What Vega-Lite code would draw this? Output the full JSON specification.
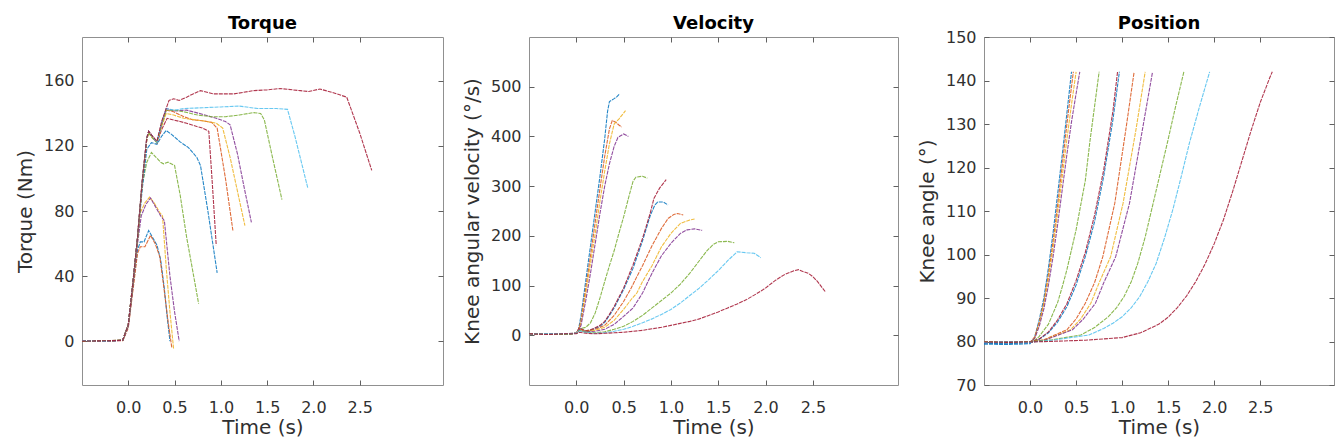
{
"$schema": "https://vega.github.io/schema/vega-lite/v6.json",
"background": "white",
"padding": {"left": 14, "top": 14, "right": 0, "bottom": 0},
"bounds": "flush",
"spacing": 86,
"config": {
  "font": "DejaVu Sans",
  "view": {"stroke": "#909090", "strokeWidth": 1},
  "axis": {"grid": false, "domain": false, "tickColor": "#606060", "tickSize": -5, "labelFont": "DejaVu Sans", "labelFontSize": 16, "labelColor": "#303030", "titleFont": "DejaVu Sans", "titleFontSize": 20, "titleFontWeight": "normal", "titleColor": "#303030", "labelPadding": 13, "titlePadding": 8},
  "axisX": {"labelPadding": 19, "titlePadding": 2},
  "title": {"font": "DejaVu Sans", "fontSize": 18, "fontWeight": "bold", "color": "#000000", "offset": 4},
  "line": {"strokeWidth": 1.1, "opacity": 0.85, "strokeDash": [4, 1]}
},
"hconcat": [
{
  "width": 361, "height": 348,
  "title": {"text": "Torque", "offset": 4},
  "data": {"name": "torque"},
  "layer": [
    {"mark": {"type": "line"},
     "encoding": {
       "x": {"field": "time", "type": "quantitative", "scale": {"domain": [-0.5, 3.4], "nice": false, "zero": false}, "axis": {"values": [0, 0.5, 1, 1.5, 2, 2.5], "format": ".1f", "title": "Time (s)"}},
       "y": {"field": "value", "type": "quantitative", "scale": {"domain": [-27, 187], "nice": false, "zero": false}, "axis": {"values": [0, 40, 80, 120, 160], "title": "Torque (Nm)"}},
       "color": {"field": "trial", "type": "nominal", "scale": {"domain": [1,2,3,4,5,6,7,8,9,10,11,12,13], "range": ["#0072BD","#D95319","#EDB120","#7E2F8E","#77AC30","#0072BD","#A2142F","#D95319","#EDB120","#7E2F8E","#77AC30","#4DBEEE","#A2142F"]}, "legend": null}
     }},
    {"mark": {"type": "line", "opacity": 0},
     "encoding": {
       "x": {"field": "time", "type": "quantitative", "axis": {"orient": "top", "values": [0, 0.5, 1, 1.5, 2, 2.5], "labels": false, "title": null}},
       "y": {"field": "value", "type": "quantitative", "axis": {"orient": "right", "values": [0, 40, 80, 120, 160], "labels": false, "title": null}},
       "detail": {"field": "trial", "type": "nominal"}
     }}
  ],
  "resolve": {"axis": {"x": "independent", "y": "independent"}}
},
{
  "width": 369, "height": 348,
  "title": {"text": "Velocity", "offset": 4},
  "data": {"name": "velocity"},
  "layer": [
    {"mark": {"type": "line"},
     "encoding": {
       "x": {"field": "time", "type": "quantitative", "scale": {"domain": [-0.5, 3.4], "nice": false, "zero": false}, "axis": {"values": [0, 0.5, 1, 1.5, 2, 2.5], "format": ".1f", "title": "Time (s)"}},
       "y": {"field": "value", "type": "quantitative", "scale": {"domain": [-100, 600], "nice": false, "zero": false}, "axis": {"values": [0, 100, 200, 300, 400, 500], "title": "Knee angular velocity (°/s)"}},
       "color": {"field": "trial", "type": "nominal", "scale": {"domain": [1,2,3,4,5,6,7,8,9,10,11,12,13], "range": ["#0072BD","#D95319","#EDB120","#7E2F8E","#77AC30","#0072BD","#A2142F","#D95319","#EDB120","#7E2F8E","#77AC30","#4DBEEE","#A2142F"]}, "legend": null}
     }},
    {"mark": {"type": "line", "opacity": 0},
     "encoding": {
       "x": {"field": "time", "type": "quantitative", "axis": {"orient": "top", "values": [0, 0.5, 1, 1.5, 2, 2.5], "labels": false, "title": null}},
       "y": {"field": "value", "type": "quantitative", "axis": {"orient": "right", "values": [0, 100, 200, 300, 400, 500], "labels": false, "title": null}},
       "detail": {"field": "trial", "type": "nominal"}
     }}
  ],
  "resolve": {"axis": {"x": "independent", "y": "independent"}}
},
{
  "width": 350, "height": 348,
  "title": {"text": "Position", "offset": -4},
  "data": {"name": "position"},
  "layer": [
    {"mark": {"type": "line"},
     "encoding": {
       "x": {"field": "time", "type": "quantitative", "scale": {"domain": [-0.5, 3.3], "nice": false, "zero": false}, "axis": {"values": [0, 0.5, 1, 1.5, 2, 2.5], "format": ".1f", "title": "Time (s)"}},
       "y": {"field": "value", "type": "quantitative", "scale": {"domain": [70, 150], "nice": false, "zero": false}, "axis": {"values": [70, 80, 90, 100, 110, 120, 130, 140, 150], "title": "Knee angle (°)"}},
       "color": {"field": "trial", "type": "nominal", "scale": {"domain": [1,2,3,4,5,6,7,8,9,10,11,12,13], "range": ["#0072BD","#D95319","#EDB120","#7E2F8E","#77AC30","#0072BD","#A2142F","#D95319","#EDB120","#7E2F8E","#77AC30","#4DBEEE","#A2142F"]}, "legend": null}
     }},
    {"mark": {"type": "line", "opacity": 0},
     "encoding": {
       "x": {"field": "time", "type": "quantitative", "axis": {"orient": "top", "values": [0, 0.5, 1, 1.5, 2, 2.5], "labels": false, "title": null}},
       "y": {"field": "value", "type": "quantitative", "axis": {"orient": "right", "values": [70, 80, 90, 100, 110, 120, 130, 140, 150], "labels": false, "title": null}},
       "detail": {"field": "trial", "type": "nominal"}
     }}
  ],
  "resolve": {"axis": {"x": "independent", "y": "independent"}}
}
],
"datasets": {
"torque": [
{"trial":1,"time":-0.5,"value":0},{"trial":1,"time":-0.25,"value":0.3},{"trial":1,"time":-0.06,"value":0.4},{"trial":1,"time":0,"value":9},{"trial":1,"time":0.05,"value":33},{"trial":1,"time":0.1,"value":56},{"trial":1,"time":0.13,"value":61},{"trial":1,"time":0.17,"value":61},{"trial":1,"time":0.22,"value":68},{"trial":1,"time":0.26,"value":64},{"trial":1,"time":0.31,"value":59},{"trial":1,"time":0.35,"value":50},{"trial":1,"time":0.39,"value":32},{"trial":1,"time":0.42,"value":15},{"trial":1,"time":0.45,"value":0},
{"trial":2,"time":-0.5,"value":0.2},{"trial":2,"time":-0.25,"value":0},{"trial":2,"time":-0.06,"value":0.3},{"trial":2,"time":0,"value":8},{"trial":2,"time":0.05,"value":31},{"trial":2,"time":0.1,"value":54},{"trial":2,"time":0.13,"value":58},{"trial":2,"time":0.18,"value":58},{"trial":2,"time":0.24,"value":65},{"trial":2,"time":0.29,"value":60},{"trial":2,"time":0.34,"value":52},{"trial":2,"time":0.38,"value":35},{"trial":2,"time":0.43,"value":12},{"trial":2,"time":0.47,"value":-4},
{"trial":3,"time":-0.5,"value":0},{"trial":3,"time":-0.25,"value":0.2},{"trial":3,"time":-0.06,"value":0.5},{"trial":3,"time":0,"value":10},{"trial":3,"time":0.05,"value":36},{"trial":3,"time":0.1,"value":62},{"trial":3,"time":0.13,"value":79},{"trial":3,"time":0.18,"value":85},{"trial":3,"time":0.23,"value":88.5},{"trial":3,"time":0.28,"value":85},{"trial":3,"time":0.34,"value":79},{"trial":3,"time":0.37,"value":77},{"trial":3,"time":0.41,"value":45},{"trial":3,"time":0.45,"value":18},{"trial":3,"time":0.49,"value":-5},
{"trial":4,"time":-0.5,"value":0.3},{"trial":4,"time":-0.25,"value":0},{"trial":4,"time":-0.06,"value":0.4},{"trial":4,"time":0,"value":9},{"trial":4,"time":0.05,"value":34},{"trial":4,"time":0.1,"value":60},{"trial":4,"time":0.14,"value":77},{"trial":4,"time":0.19,"value":84},{"trial":4,"time":0.24,"value":88},{"trial":4,"time":0.29,"value":83},{"trial":4,"time":0.35,"value":77},{"trial":4,"time":0.39,"value":74},{"trial":4,"time":0.45,"value":40},{"trial":4,"time":0.5,"value":18},{"trial":4,"time":0.55,"value":0},
{"trial":5,"time":-0.5,"value":0},{"trial":5,"time":-0.25,"value":0.2},{"trial":5,"time":-0.06,"value":0.5},{"trial":5,"time":0,"value":10},{"trial":5,"time":0.05,"value":35},{"trial":5,"time":0.1,"value":62},{"trial":5,"time":0.15,"value":96},{"trial":5,"time":0.2,"value":110},{"trial":5,"time":0.25,"value":116},{"trial":5,"time":0.3,"value":113},{"trial":5,"time":0.35,"value":110},{"trial":5,"time":0.38,"value":109},{"trial":5,"time":0.43,"value":110},{"trial":5,"time":0.5,"value":108},{"trial":5,"time":0.56,"value":90},{"trial":5,"time":0.63,"value":64},{"trial":5,"time":0.7,"value":42},{"trial":5,"time":0.76,"value":23},
{"trial":6,"time":-0.5,"value":0.2},{"trial":6,"time":-0.25,"value":0},{"trial":6,"time":-0.06,"value":0.5},{"trial":6,"time":0,"value":10},{"trial":6,"time":0.05,"value":36},{"trial":6,"time":0.1,"value":63},{"trial":6,"time":0.15,"value":93},{"trial":6,"time":0.2,"value":118},{"trial":6,"time":0.25,"value":122},{"trial":6,"time":0.31,"value":121},{"trial":6,"time":0.36,"value":126},{"trial":6,"time":0.41,"value":129.5},{"trial":6,"time":0.47,"value":127},{"trial":6,"time":0.56,"value":122.5},{"trial":6,"time":0.65,"value":119},{"trial":6,"time":0.74,"value":113},{"trial":6,"time":0.78,"value":108},{"trial":6,"time":0.86,"value":80},{"trial":6,"time":0.96,"value":42},
{"trial":7,"time":-0.5,"value":0},{"trial":7,"time":-0.25,"value":0.3},{"trial":7,"time":-0.06,"value":0.5},{"trial":7,"time":0,"value":10},{"trial":7,"time":0.05,"value":36},{"trial":7,"time":0.1,"value":64},{"trial":7,"time":0.15,"value":97},{"trial":7,"time":0.2,"value":124},{"trial":7,"time":0.22,"value":129},{"trial":7,"time":0.26,"value":126},{"trial":7,"time":0.31,"value":122},{"trial":7,"time":0.36,"value":130},{"trial":7,"time":0.42,"value":137},{"trial":7,"time":0.49,"value":136},{"trial":7,"time":0.56,"value":135},{"trial":7,"time":0.63,"value":134},{"trial":7,"time":0.74,"value":132},{"trial":7,"time":0.8,"value":131},{"trial":7,"time":0.87,"value":129},{"trial":7,"time":0.91,"value":95},{"trial":7,"time":0.95,"value":59},
{"trial":8,"time":-0.5,"value":0.2},{"trial":8,"time":-0.25,"value":0},{"trial":8,"time":-0.06,"value":0.5},{"trial":8,"time":0,"value":10},{"trial":8,"time":0.05,"value":36},{"trial":8,"time":0.1,"value":64},{"trial":8,"time":0.15,"value":98},{"trial":8,"time":0.2,"value":125},{"trial":8,"time":0.22,"value":129},{"trial":8,"time":0.26,"value":126},{"trial":8,"time":0.31,"value":122},{"trial":8,"time":0.36,"value":133},{"trial":8,"time":0.41,"value":142},{"trial":8,"time":0.49,"value":141},{"trial":8,"time":0.6,"value":138},{"trial":8,"time":0.7,"value":136},{"trial":8,"time":0.8,"value":135.5},{"trial":8,"time":0.9,"value":134.5},{"trial":8,"time":0.96,"value":131},{"trial":8,"time":1.05,"value":100},{"trial":8,"time":1.13,"value":68},
{"trial":9,"time":-0.5,"value":0},{"trial":9,"time":-0.25,"value":0.2},{"trial":9,"time":-0.06,"value":0.5},{"trial":9,"time":0,"value":10},{"trial":9,"time":0.05,"value":36},{"trial":9,"time":0.1,"value":63},{"trial":9,"time":0.15,"value":97},{"trial":9,"time":0.2,"value":124},{"trial":9,"time":0.22,"value":128},{"trial":9,"time":0.26,"value":125},{"trial":9,"time":0.31,"value":122},{"trial":9,"time":0.36,"value":132},{"trial":9,"time":0.41,"value":140},{"trial":9,"time":0.49,"value":139},{"trial":9,"time":0.6,"value":137},{"trial":9,"time":0.8,"value":135.5},{"trial":9,"time":0.95,"value":134},{"trial":9,"time":1.02,"value":131},{"trial":9,"time":1.1,"value":113},{"trial":9,"time":1.18,"value":92},{"trial":9,"time":1.26,"value":71},
{"trial":10,"time":-0.5,"value":0.2},{"trial":10,"time":-0.25,"value":0},{"trial":10,"time":-0.06,"value":0.5},{"trial":10,"time":0,"value":10},{"trial":10,"time":0.05,"value":36},{"trial":10,"time":0.1,"value":64},{"trial":10,"time":0.15,"value":98},{"trial":10,"time":0.2,"value":125},{"trial":10,"time":0.22,"value":129},{"trial":10,"time":0.26,"value":126},{"trial":10,"time":0.31,"value":122},{"trial":10,"time":0.36,"value":134},{"trial":10,"time":0.41,"value":143},{"trial":10,"time":0.5,"value":141.5},{"trial":10,"time":0.63,"value":142},{"trial":10,"time":0.8,"value":139.5},{"trial":10,"time":0.95,"value":137},{"trial":10,"time":1.05,"value":135},{"trial":10,"time":1.1,"value":133},{"trial":10,"time":1.18,"value":115},{"trial":10,"time":1.25,"value":95},{"trial":10,"time":1.33,"value":73},
{"trial":11,"time":-0.5,"value":0},{"trial":11,"time":-0.25,"value":0.3},{"trial":11,"time":-0.06,"value":0.5},{"trial":11,"time":0,"value":10},{"trial":11,"time":0.05,"value":36},{"trial":11,"time":0.1,"value":64},{"trial":11,"time":0.15,"value":97},{"trial":11,"time":0.2,"value":124},{"trial":11,"time":0.22,"value":128},{"trial":11,"time":0.26,"value":125},{"trial":11,"time":0.31,"value":122},{"trial":11,"time":0.36,"value":133},{"trial":11,"time":0.41,"value":142},{"trial":11,"time":0.5,"value":142},{"trial":11,"time":0.6,"value":141},{"trial":11,"time":0.75,"value":139},{"trial":11,"time":0.9,"value":138},{"trial":11,"time":1.05,"value":138},{"trial":11,"time":1.2,"value":139},{"trial":11,"time":1.35,"value":140.5},{"trial":11,"time":1.43,"value":140},{"trial":11,"time":1.47,"value":136},{"trial":11,"time":1.55,"value":115},{"trial":11,"time":1.66,"value":87},
{"trial":12,"time":-0.5,"value":0.2},{"trial":12,"time":-0.25,"value":0},{"trial":12,"time":-0.06,"value":0.5},{"trial":12,"time":0,"value":10},{"trial":12,"time":0.05,"value":36},{"trial":12,"time":0.1,"value":64},{"trial":12,"time":0.15,"value":98},{"trial":12,"time":0.2,"value":125},{"trial":12,"time":0.22,"value":129},{"trial":12,"time":0.26,"value":126},{"trial":12,"time":0.31,"value":122},{"trial":12,"time":0.36,"value":134},{"trial":12,"time":0.41,"value":143},{"trial":12,"time":0.5,"value":142},{"trial":12,"time":0.6,"value":143},{"trial":12,"time":0.8,"value":143.5},{"trial":12,"time":1.0,"value":144},{"trial":12,"time":1.2,"value":144.5},{"trial":12,"time":1.4,"value":143},{"trial":12,"time":1.6,"value":143},{"trial":12,"time":1.72,"value":142.5},{"trial":12,"time":1.8,"value":126},{"trial":12,"time":1.94,"value":94},
{"trial":13,"time":-0.5,"value":0},{"trial":13,"time":-0.25,"value":0.2},{"trial":13,"time":-0.06,"value":0.5},{"trial":13,"time":0,"value":10},{"trial":13,"time":0.05,"value":36},{"trial":13,"time":0.1,"value":64},{"trial":13,"time":0.15,"value":98},{"trial":13,"time":0.2,"value":125},{"trial":13,"time":0.22,"value":129},{"trial":13,"time":0.26,"value":126},{"trial":13,"time":0.31,"value":123},{"trial":13,"time":0.36,"value":135},{"trial":13,"time":0.44,"value":148},{"trial":13,"time":0.49,"value":149},{"trial":13,"time":0.55,"value":148},{"trial":13,"time":0.63,"value":150},{"trial":13,"time":0.7,"value":152},{"trial":13,"time":0.78,"value":154},{"trial":13,"time":0.92,"value":152},{"trial":13,"time":1.14,"value":152},{"trial":13,"time":1.35,"value":154},{"trial":13,"time":1.5,"value":154.5},{"trial":13,"time":1.64,"value":155.3},{"trial":13,"time":1.86,"value":154},{"trial":13,"time":1.95,"value":153.5},{"trial":13,"time":2.07,"value":155},{"trial":13,"time":2.2,"value":153},{"trial":13,"time":2.36,"value":150},{"trial":13,"time":2.5,"value":128},{"trial":13,"time":2.63,"value":105}
],
"velocity": [
{"trial":1,"time":-0.5,"value":3},{"trial":1,"time":-0.3,"value":2},{"trial":1,"time":-0.1,"value":3.5},{"trial":1,"time":0,"value":4},{"trial":1,"time":0.02,"value":8},{"trial":1,"time":0.05,"value":40},{"trial":1,"time":0.1,"value":110},{"trial":1,"time":0.15,"value":180},{"trial":1,"time":0.2,"value":250},{"trial":1,"time":0.25,"value":320},{"trial":1,"time":0.3,"value":395},{"trial":1,"time":0.33,"value":450},{"trial":1,"time":0.35,"value":470},{"trial":1,"time":0.4,"value":476},{"trial":1,"time":0.43,"value":480},{"trial":1,"time":0.46,"value":486},
{"trial":2,"time":-0.5,"value":2.5},{"trial":2,"time":-0.3,"value":3.5},{"trial":2,"time":-0.1,"value":2},{"trial":2,"time":0,"value":4},{"trial":2,"time":0.02,"value":8},{"trial":2,"time":0.05,"value":30},{"trial":2,"time":0.1,"value":95},{"trial":2,"time":0.15,"value":160},{"trial":2,"time":0.2,"value":228},{"trial":2,"time":0.25,"value":295},{"trial":2,"time":0.3,"value":360},{"trial":2,"time":0.35,"value":415},{"trial":2,"time":0.38,"value":432},{"trial":2,"time":0.42,"value":428},{"trial":2,"time":0.45,"value":423},{"trial":2,"time":0.48,"value":419},
{"trial":3,"time":-0.5,"value":3},{"trial":3,"time":-0.3,"value":2.5},{"trial":3,"time":-0.1,"value":3},{"trial":3,"time":0,"value":4},{"trial":3,"time":0.02,"value":7},{"trial":3,"time":0.05,"value":25},{"trial":3,"time":0.1,"value":85},{"trial":3,"time":0.15,"value":145},{"trial":3,"time":0.2,"value":205},{"trial":3,"time":0.25,"value":270},{"trial":3,"time":0.3,"value":330},{"trial":3,"time":0.35,"value":385},{"trial":3,"time":0.4,"value":425},{"trial":3,"time":0.45,"value":435},{"trial":3,"time":0.5,"value":447},{"trial":3,"time":0.52,"value":452},
{"trial":4,"time":-0.5,"value":2},{"trial":4,"time":-0.3,"value":3},{"trial":4,"time":-0.1,"value":2.5},{"trial":4,"time":0,"value":4},{"trial":4,"time":0.02,"value":6},{"trial":4,"time":0.05,"value":20},{"trial":4,"time":0.1,"value":70},{"trial":4,"time":0.15,"value":125},{"trial":4,"time":0.2,"value":185},{"trial":4,"time":0.25,"value":245},{"trial":4,"time":0.3,"value":300},{"trial":4,"time":0.35,"value":345},{"trial":4,"time":0.4,"value":380},{"trial":4,"time":0.44,"value":398},{"trial":4,"time":0.5,"value":405},{"trial":4,"time":0.55,"value":400},
{"trial":5,"time":-0.5,"value":3},{"trial":5,"time":-0.3,"value":2},{"trial":5,"time":-0.1,"value":3},{"trial":5,"time":0,"value":4},{"trial":5,"time":0.03,"value":12},{"trial":5,"time":0.06,"value":14},{"trial":5,"time":0.1,"value":16},{"trial":5,"time":0.15,"value":25},{"trial":5,"time":0.2,"value":45},{"trial":5,"time":0.25,"value":75},{"trial":5,"time":0.3,"value":108},{"trial":5,"time":0.35,"value":140},{"trial":5,"time":0.4,"value":170},{"trial":5,"time":0.45,"value":205},{"trial":5,"time":0.5,"value":238},{"trial":5,"time":0.55,"value":275},{"trial":5,"time":0.6,"value":310},{"trial":5,"time":0.63,"value":318},{"trial":5,"time":0.7,"value":320},{"trial":5,"time":0.75,"value":316},
{"trial":6,"time":-0.5,"value":3},{"trial":6,"time":-0.3,"value":3.5},{"trial":6,"time":-0.1,"value":2},{"trial":6,"time":0,"value":4},{"trial":6,"time":0.03,"value":14},{"trial":6,"time":0.06,"value":12},{"trial":6,"time":0.1,"value":8},{"trial":6,"time":0.15,"value":10},{"trial":6,"time":0.2,"value":14},{"trial":6,"time":0.25,"value":18},{"trial":6,"time":0.3,"value":26},{"trial":6,"time":0.35,"value":40},{"trial":6,"time":0.4,"value":55},{"trial":6,"time":0.5,"value":92},{"trial":6,"time":0.6,"value":135},{"trial":6,"time":0.7,"value":190},{"trial":6,"time":0.78,"value":240},{"trial":6,"time":0.83,"value":262},{"trial":6,"time":0.86,"value":268},{"trial":6,"time":0.92,"value":268},{"trial":6,"time":0.97,"value":262},
{"trial":7,"time":-0.5,"value":2.5},{"trial":7,"time":-0.3,"value":3},{"trial":7,"time":-0.1,"value":3},{"trial":7,"time":0,"value":4},{"trial":7,"time":0.03,"value":15},{"trial":7,"time":0.06,"value":12},{"trial":7,"time":0.1,"value":9},{"trial":7,"time":0.15,"value":11},{"trial":7,"time":0.2,"value":15},{"trial":7,"time":0.25,"value":20},{"trial":7,"time":0.3,"value":28},{"trial":7,"time":0.35,"value":42},{"trial":7,"time":0.4,"value":58},{"trial":7,"time":0.5,"value":95},{"trial":7,"time":0.6,"value":142},{"trial":7,"time":0.7,"value":195},{"trial":7,"time":0.78,"value":245},{"trial":7,"time":0.82,"value":275},{"trial":7,"time":0.88,"value":296},{"trial":7,"time":0.95,"value":313},
{"trial":8,"time":-0.5,"value":3},{"trial":8,"time":-0.3,"value":2.5},{"trial":8,"time":-0.1,"value":3.5},{"trial":8,"time":0,"value":4},{"trial":8,"time":0.03,"value":14},{"trial":8,"time":0.06,"value":11},{"trial":8,"time":0.1,"value":8},{"trial":8,"time":0.2,"value":12},{"trial":8,"time":0.3,"value":20},{"trial":8,"time":0.4,"value":40},{"trial":8,"time":0.5,"value":68},{"trial":8,"time":0.58,"value":95},{"trial":8,"time":0.64,"value":118},{"trial":8,"time":0.7,"value":140},{"trial":8,"time":0.8,"value":180},{"trial":8,"time":0.9,"value":215},{"trial":8,"time":0.97,"value":235},{"trial":8,"time":1.03,"value":243},{"trial":8,"time":1.07,"value":245},{"trial":8,"time":1.13,"value":242},
{"trial":9,"time":-0.5,"value":2},{"trial":9,"time":-0.3,"value":3},{"trial":9,"time":-0.1,"value":2.5},{"trial":9,"time":0,"value":4},{"trial":9,"time":0.03,"value":12},{"trial":9,"time":0.06,"value":10},{"trial":9,"time":0.1,"value":7},{"trial":9,"time":0.2,"value":10},{"trial":9,"time":0.3,"value":16},{"trial":9,"time":0.4,"value":30},{"trial":9,"time":0.5,"value":52},{"trial":9,"time":0.58,"value":72},{"trial":9,"time":0.64,"value":85},{"trial":9,"time":0.7,"value":108},{"trial":9,"time":0.8,"value":140},{"trial":9,"time":0.9,"value":178},{"trial":9,"time":1.0,"value":205},{"trial":9,"time":1.1,"value":225},{"trial":9,"time":1.2,"value":232},{"trial":9,"time":1.25,"value":234},
{"trial":10,"time":-0.5,"value":3},{"trial":10,"time":-0.3,"value":2},{"trial":10,"time":-0.1,"value":3},{"trial":10,"time":0,"value":4},{"trial":10,"time":0.03,"value":12},{"trial":10,"time":0.06,"value":9},{"trial":10,"time":0.1,"value":7},{"trial":10,"time":0.2,"value":8},{"trial":10,"time":0.3,"value":12},{"trial":10,"time":0.4,"value":22},{"trial":10,"time":0.5,"value":38},{"trial":10,"time":0.6,"value":55},{"trial":10,"time":0.7,"value":85},{"trial":10,"time":0.8,"value":125},{"trial":10,"time":0.9,"value":160},{"trial":10,"time":1.0,"value":185},{"trial":10,"time":1.1,"value":205},{"trial":10,"time":1.17,"value":212},{"trial":10,"time":1.25,"value":214},{"trial":10,"time":1.33,"value":211},
{"trial":11,"time":-0.5,"value":3},{"trial":11,"time":-0.3,"value":3},{"trial":11,"time":-0.1,"value":2},{"trial":11,"time":0,"value":4},{"trial":11,"time":0.03,"value":10},{"trial":11,"time":0.1,"value":6},{"trial":11,"time":0.2,"value":5},{"trial":11,"time":0.3,"value":7},{"trial":11,"time":0.4,"value":12},{"trial":11,"time":0.5,"value":18},{"trial":11,"time":0.6,"value":28},{"trial":11,"time":0.7,"value":40},{"trial":11,"time":0.8,"value":55},{"trial":11,"time":0.9,"value":70},{"trial":11,"time":1.0,"value":85},{"trial":11,"time":1.1,"value":103},{"trial":11,"time":1.2,"value":125},{"trial":11,"time":1.3,"value":150},{"trial":11,"time":1.38,"value":170},{"trial":11,"time":1.45,"value":183},{"trial":11,"time":1.5,"value":188},{"trial":11,"time":1.6,"value":189},{"trial":11,"time":1.67,"value":186},
{"trial":12,"time":-0.5,"value":2.5},{"trial":12,"time":-0.3,"value":3.5},{"trial":12,"time":-0.1,"value":3},{"trial":12,"time":0,"value":4},{"trial":12,"time":0.03,"value":9},{"trial":12,"time":0.1,"value":6},{"trial":12,"time":0.2,"value":4},{"trial":12,"time":0.3,"value":5},{"trial":12,"time":0.4,"value":8},{"trial":12,"time":0.5,"value":12},{"trial":12,"time":0.6,"value":18},{"trial":12,"time":0.7,"value":25},{"trial":12,"time":0.8,"value":33},{"trial":12,"time":0.9,"value":42},{"trial":12,"time":1.0,"value":52},{"trial":12,"time":1.1,"value":65},{"trial":12,"time":1.2,"value":80},{"trial":12,"time":1.3,"value":95},{"trial":12,"time":1.4,"value":112},{"trial":12,"time":1.5,"value":130},{"trial":12,"time":1.6,"value":150},{"trial":12,"time":1.7,"value":168},{"trial":12,"time":1.8,"value":166},{"trial":12,"time":1.88,"value":165},{"trial":12,"time":1.95,"value":156},
{"trial":13,"time":-0.5,"value":3},{"trial":13,"time":-0.3,"value":2},{"trial":13,"time":-0.1,"value":3},{"trial":13,"time":0,"value":3},{"trial":13,"time":0.03,"value":6},{"trial":13,"time":0.1,"value":4},{"trial":13,"time":0.2,"value":3},{"trial":13,"time":0.3,"value":4},{"trial":13,"time":0.4,"value":5},{"trial":13,"time":0.5,"value":6},{"trial":13,"time":0.6,"value":8},{"trial":13,"time":0.7,"value":10},{"trial":13,"time":0.8,"value":13},{"trial":13,"time":0.9,"value":16},{"trial":13,"time":1.0,"value":20},{"trial":13,"time":1.1,"value":24},{"trial":13,"time":1.2,"value":28},{"trial":13,"time":1.3,"value":33},{"trial":13,"time":1.4,"value":40},{"trial":13,"time":1.5,"value":47},{"trial":13,"time":1.6,"value":55},{"trial":13,"time":1.7,"value":63},{"trial":13,"time":1.8,"value":72},{"trial":13,"time":1.9,"value":83},{"trial":13,"time":2.0,"value":95},{"trial":13,"time":2.1,"value":110},{"trial":13,"time":2.2,"value":122},{"trial":13,"time":2.3,"value":130},{"trial":13,"time":2.35,"value":132},{"trial":13,"time":2.4,"value":128},{"trial":13,"time":2.45,"value":125},{"trial":13,"time":2.5,"value":118},{"trial":13,"time":2.55,"value":108},{"trial":13,"time":2.63,"value":88}
],
"position": [
{"trial":1,"time":-0.5,"value":79.4},{"trial":1,"time":-0.25,"value":79.3},{"trial":1,"time":0,"value":79.5},{"trial":1,"time":0.05,"value":81},{"trial":1,"time":0.1,"value":85},{"trial":1,"time":0.15,"value":90},{"trial":1,"time":0.2,"value":97},{"trial":1,"time":0.25,"value":105},{"trial":1,"time":0.3,"value":114},{"trial":1,"time":0.35,"value":123},{"trial":1,"time":0.4,"value":132.5},{"trial":1,"time":0.45,"value":142},
{"trial":2,"time":-0.5,"value":79.8},{"trial":2,"time":-0.25,"value":79.7},{"trial":2,"time":0,"value":79.8},{"trial":2,"time":0.05,"value":81},{"trial":2,"time":0.1,"value":84.5},{"trial":2,"time":0.15,"value":89},{"trial":2,"time":0.2,"value":95.5},{"trial":2,"time":0.25,"value":103},{"trial":2,"time":0.3,"value":111.5},{"trial":2,"time":0.35,"value":120.5},{"trial":2,"time":0.4,"value":130},{"trial":2,"time":0.47,"value":142},
{"trial":3,"time":-0.5,"value":79.9},{"trial":3,"time":-0.25,"value":79.8},{"trial":3,"time":0,"value":79.8},{"trial":3,"time":0.05,"value":80.8},{"trial":3,"time":0.1,"value":84},{"trial":3,"time":0.15,"value":88.5},{"trial":3,"time":0.2,"value":94.5},{"trial":3,"time":0.25,"value":101.5},{"trial":3,"time":0.3,"value":109.5},{"trial":3,"time":0.35,"value":118},{"trial":3,"time":0.4,"value":126.5},{"trial":3,"time":0.45,"value":134.5},{"trial":3,"time":0.5,"value":142},
{"trial":4,"time":-0.5,"value":79.7},{"trial":4,"time":-0.25,"value":79.8},{"trial":4,"time":0,"value":79.8},{"trial":4,"time":0.05,"value":80.7},{"trial":4,"time":0.1,"value":83.5},{"trial":4,"time":0.15,"value":87.5},{"trial":4,"time":0.2,"value":93},{"trial":4,"time":0.25,"value":99.5},{"trial":4,"time":0.3,"value":107},{"trial":4,"time":0.35,"value":115},{"trial":4,"time":0.4,"value":123},{"trial":4,"time":0.45,"value":130.5},{"trial":4,"time":0.5,"value":137},{"trial":4,"time":0.54,"value":142},
{"trial":5,"time":-0.5,"value":79.8},{"trial":5,"time":-0.25,"value":79.9},{"trial":5,"time":0,"value":79.8},{"trial":5,"time":0.06,"value":80.4},{"trial":5,"time":0.1,"value":81.2},{"trial":5,"time":0.2,"value":84},{"trial":5,"time":0.3,"value":89},{"trial":5,"time":0.35,"value":92.6},{"trial":5,"time":0.4,"value":96.5},{"trial":5,"time":0.5,"value":105.7},{"trial":5,"time":0.6,"value":117},{"trial":5,"time":0.65,"value":126},{"trial":5,"time":0.7,"value":134},{"trial":5,"time":0.75,"value":142},
{"trial":6,"time":-0.5,"value":79.6},{"trial":6,"time":-0.25,"value":79.5},{"trial":6,"time":0,"value":79.7},{"trial":6,"time":0.1,"value":80.5},{"trial":6,"time":0.2,"value":82},{"trial":6,"time":0.3,"value":84.5},{"trial":6,"time":0.4,"value":88},{"trial":6,"time":0.5,"value":93},{"trial":6,"time":0.6,"value":99.5},{"trial":6,"time":0.7,"value":107.5},{"trial":6,"time":0.8,"value":118},{"trial":6,"time":0.9,"value":131},{"trial":6,"time":0.97,"value":142},
{"trial":7,"time":-0.5,"value":79.9},{"trial":7,"time":-0.25,"value":79.8},{"trial":7,"time":0,"value":79.9},{"trial":7,"time":0.1,"value":80.6},{"trial":7,"time":0.2,"value":82.2},{"trial":7,"time":0.3,"value":85},{"trial":7,"time":0.4,"value":88.7},{"trial":7,"time":0.5,"value":94},{"trial":7,"time":0.6,"value":100.5},{"trial":7,"time":0.7,"value":109},{"trial":7,"time":0.8,"value":119.5},{"trial":7,"time":0.9,"value":133},{"trial":7,"time":0.95,"value":142},
{"trial":8,"time":-0.5,"value":79.8},{"trial":8,"time":-0.25,"value":79.9},{"trial":8,"time":0,"value":79.8},{"trial":8,"time":0.15,"value":80.4},{"trial":8,"time":0.4,"value":82.7},{"trial":8,"time":0.5,"value":85.2},{"trial":8,"time":0.6,"value":88.8},{"trial":8,"time":0.7,"value":93.5},{"trial":8,"time":0.79,"value":99.5},{"trial":8,"time":0.92,"value":111.8},{"trial":8,"time":1.04,"value":128.7},{"trial":8,"time":1.13,"value":142},
{"trial":9,"time":-0.5,"value":79.9},{"trial":9,"time":-0.25,"value":79.8},{"trial":9,"time":0,"value":79.9},{"trial":9,"time":0.16,"value":80.4},{"trial":9,"time":0.44,"value":82.7},{"trial":9,"time":0.55,"value":85.2},{"trial":9,"time":0.66,"value":88.8},{"trial":9,"time":0.75,"value":93.5},{"trial":9,"time":0.875,"value":99.5},{"trial":9,"time":1.01,"value":111.8},{"trial":9,"time":1.15,"value":128.7},{"trial":9,"time":1.25,"value":142},
{"trial":10,"time":-0.5,"value":79.8},{"trial":10,"time":-0.25,"value":79.9},{"trial":10,"time":0,"value":79.8},{"trial":10,"time":0.17,"value":80.4},{"trial":10,"time":0.46,"value":82.7},{"trial":10,"time":0.58,"value":85.2},{"trial":10,"time":0.71,"value":88.8},{"trial":10,"time":0.8,"value":93.5},{"trial":10,"time":0.93,"value":99.5},{"trial":10,"time":1.08,"value":111.8},{"trial":10,"time":1.22,"value":128.7},{"trial":10,"time":1.33,"value":142},
{"trial":11,"time":-0.5,"value":79.9},{"trial":11,"time":-0.25,"value":79.8},{"trial":11,"time":0,"value":79.9},{"trial":11,"time":0.24,"value":80.4},{"trial":11,"time":0.55,"value":81.5},{"trial":11,"time":0.7,"value":83.2},{"trial":11,"time":0.85,"value":85.7},{"trial":11,"time":0.94,"value":87.8},{"trial":11,"time":1.02,"value":90.3},{"trial":11,"time":1.1,"value":93.8},{"trial":11,"time":1.17,"value":98},{"trial":11,"time":1.25,"value":104},{"trial":11,"time":1.32,"value":110.3},{"trial":11,"time":1.4,"value":117.5},{"trial":11,"time":1.49,"value":125.6},{"trial":11,"time":1.58,"value":134},{"trial":11,"time":1.67,"value":142},
{"trial":12,"time":-0.5,"value":79.8},{"trial":12,"time":-0.25,"value":79.9},{"trial":12,"time":0,"value":79.8},{"trial":12,"time":0.28,"value":80.4},{"trial":12,"time":0.64,"value":81.5},{"trial":12,"time":0.8,"value":83},{"trial":12,"time":0.9,"value":84.2},{"trial":12,"time":1.0,"value":85.7},{"trial":12,"time":1.1,"value":87.8},{"trial":12,"time":1.19,"value":90.3},{"trial":12,"time":1.28,"value":93.8},{"trial":12,"time":1.37,"value":98},{"trial":12,"time":1.46,"value":103.8},{"trial":12,"time":1.55,"value":110.3},{"trial":12,"time":1.64,"value":117.8},{"trial":12,"time":1.73,"value":125.6},{"trial":12,"time":1.84,"value":134},{"trial":12,"time":1.95,"value":142},
{"trial":13,"time":-0.5,"value":79.9},{"trial":13,"time":-0.25,"value":79.8},{"trial":13,"time":0,"value":79.9},{"trial":13,"time":0.2,"value":80},{"trial":13,"time":0.6,"value":80.3},{"trial":13,"time":1.0,"value":80.9},{"trial":13,"time":1.2,"value":82},{"trial":13,"time":1.4,"value":84},{"trial":13,"time":1.5,"value":85.6},{"trial":13,"time":1.6,"value":87.8},{"trial":13,"time":1.7,"value":90.5},{"trial":13,"time":1.8,"value":93.8},{"trial":13,"time":1.9,"value":97.8},{"trial":13,"time":2.0,"value":102.5},{"trial":13,"time":2.1,"value":108},{"trial":13,"time":2.2,"value":114.5},{"trial":13,"time":2.3,"value":121.5},{"trial":13,"time":2.4,"value":128.5},{"trial":13,"time":2.5,"value":135},{"trial":13,"time":2.6,"value":140.5},{"trial":13,"time":2.63,"value":142}
]
}
}
